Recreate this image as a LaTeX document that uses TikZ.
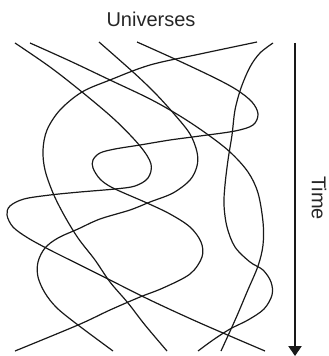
\documentclass[tikz,border=0pt]{standalone}
\usepackage{fontspec}
\setmainfont{Liberation Sans}
\usetikzlibrary{arrows.meta}

\begin{document}
\begin{tikzpicture}[x=0.75pt, y=-0.75pt,
  universe/.style={line width=0.9pt, black!90},
  timeline/.style={line width=0.9pt, black!90, -{Triangle[length=7.5pt, width=10pt]}},
  caption/.style={font=\fontsize{15}{17}\selectfont, text=black!85, inner sep=0pt}
]
  \useasboundingbox (0,0) rectangle (328,356);

  % Title
  \node[caption] (universes) at (151,19) {Universes};

  % Worldlines, top to bottom
  \draw[universe] plot[smooth, tension=0.55] coordinates {(15,43) (50,67) (82,92)
    (115,120) (140,146) (151,164) (148,178) (135,186) (115,189) (80,192) (50,195)
    (24,199) (10,206) (7,215) (13,227) (28,238) (50,250) (80,265) (110,280)
    (150,300) (200,323) (265,351)};
  \draw[universe] plot[smooth, tension=0.55] coordinates {(30,43) (70,61) (110,80)
    (150,99) (180,116) (207,134) (230,152) (248,172) (258,193) (263,222)
    (263,245) (258,266) (247,292) (236,318) (221,351)};
  \draw[universe] plot[smooth, tension=0.55] coordinates {(99,42) (133,72) (155,93)
    (175,115) (190,134) (197,152) (197,166) (190,180) (173,193) (150,202)
    (130,210) (100,219) (78,229) (58,238) (45,248) (38,262) (38,277) (45,293)
    (57,308) (78,325) (113,351)};
  \draw[universe] plot[smooth, tension=0.55] coordinates {(137,42) (177,60) (215,78)
    (237,90) (252,102) (258,114) (253,125) (235,131) (200,136) (170,140)
    (140,145) (115,149) (100,153) (93,160) (93,168) (100,179) (113,188)
    (147,203) (170,214) (190,227) (201,242) (202,257) (190,274) (163,288)
    (140,297) (110,310) (78,325) (15,351)};
  \draw[universe] plot[smooth, tension=0.55] coordinates {(257,42) (200,54) (150,65)
    (110,80) (82,92) (60,110) (47,130) (43,150) (45,170) (53,193) (64,215)
    (78,238) (95,260) (110,282) (128,303) (145,325) (167,351)};
  \draw[universe] plot[smooth, tension=0.55] coordinates {(273,43) (260,53) (250,67)
    (241,88) (235,110) (232,135) (228,160) (225,185) (224,205) (227,227)
    (235,247) (250,262) (263,270) (271,282) (272,295) (264,309) (248,320)
    (230,329) (213,340) (198,351)};

  % Time axis
  \coordinate (tstart) at (295,43);
  \coordinate (tend) at (295,356);
  \draw[timeline] (tstart) -- (tend);
  \node[caption, rotate=-90] (time) at (319,198) {Time};
\end{tikzpicture}
\end{document}
